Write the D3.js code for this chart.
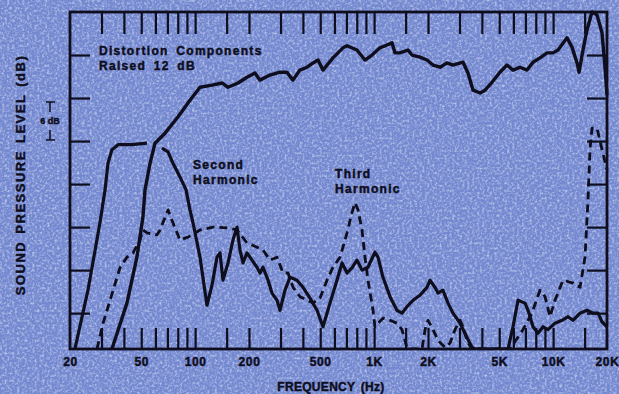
<!DOCTYPE html>
<html>
<head>
  <meta charset="utf-8">
  <script src="https://d3js.org/d3.v7.min.js"></script>
  <style>
    body { margin: 0; background: #7488cf; }
    text { font-family: "Liberation Sans", Arial, sans-serif; font-weight: bold; fill: #0e0e1e; stroke: #0e0e1e; stroke-width: 0.45; }
  </style>
</head>
<body>
<script>
var width = 619, height = 394;
var pl = 70, pr = 607, pt = 12, pb = 349;

// frequency response (solid), Hz / dB
var respFreq = [34.3, 41.6, 47.3, 51.1, 52.5, 56, 59.7, 67.9, 80.3, 93.6, 106.5, 124.3, 141.3, 152.7, 173.6, 194.9, 216, 230, 262, 298, 326, 352, 385, 422, 456, 486, 518, 589, 670, 706, 802, 889, 973, 1079, 1180, 1259, 1308, 1396, 1546, 1628, 1804, 1974, 2133, 2334, 2554, 2758, 3138, 3346, 3569, 3905, 4165, 4556, 5050, 5526, 5970, 6532, 7148, 7722, 8448, 9244, 9986, 10650, 11956, 12752, 13602, 13956, 14690, 15466, 16490, 17586, 18756, 19490, 20000];
var respDb = [1, 7.4, 13.8, 19.4, 23.2, 26.9, 29.7, 31.1, 33.4, 35.7, 37.5, 37.8, 38.1, 37.5, 38.1, 38.9, 39.5, 38.5, 39.2, 39.6, 39.6, 38.5, 39.9, 40.3, 40.9, 41.3, 39.9, 41.6, 43, 43.3, 42.7, 41.3, 42, 43, 43.4, 43.7, 42.3, 42.3, 42.7, 42, 41.7, 41.3, 40.6, 40.3, 40.9, 40.6, 41, 39.5, 37.1, 36.7, 37.1, 38.2, 39.6, 40.6, 39.9, 40.3, 39.9, 41, 41.6, 42.3, 42.3, 42.7, 44.4, 43.1, 40.9, 39.6, 42.7, 45.5, 48, 47.6, 45.1, 40.3, 36.4];

// second harmonic (solid), null = break where it passes the response curve
var secFreq = [21.3, 25.2, 29.4, 31.4, 32.6, 34.3, 37.1, 44.4, 53.8, 58, 65.3, 70.6, 75.2, 82.3, 89, 93.6, 97.3, 106.5, 116.5, 124.3, 132.5, 137.7, 143.1, 152.7, 162.8, 171.4, 178.1, 185.2, 194.9, 207.8, 221.6, 230.4, 239.5, 255.5, 268.8, 286.7, 298, 317.8, 339, 370.8, 400.6, 438.4, 479.8, 518, 567, 620, 662, 706, 752, 802, 856, 924, 1011, 1051, 1121, 1227, 1342, 1431, 1526, 1650, 1804, 1974, 2052, 2188, 2274, 2426, 2587, 2758, 3020, 3304, 3524, 3662, 5598, 5970, 6368, 6966, 7242, 7722, 8234, 8780, 9364, 10246, 11212, 12112, 12918, 14136, 15466, 16704, 17814, 18756, 20000];
var secDb = [1, 9.2, 18.6, 23.2, 26.9, 28.8, 29.5, 29.5, 29.7, null, 29, 28.5, 26.9, 25, 23.2, 20.4, 18.6, 13.8, 7.1, 9.9, 13.8, 14.4, 10.6, 13, 16.2, 18, 14.8, 13, 14.4, 13.4, 12.4, 11.6, 12.4, 10.6, 8.8, 7.8, 6.4, 9.2, 11, 10.6, 9.6, 8.1, 6.4, 4.1, 7.4, 10.6, 13, 11.6, 12.3, 13.4, 12, 12.4, 14.5, 13.8, 11, 8.3, 6.4, 6, 6.9, 7.8, 8.5, 9.6, 10.6, 9.6, 8.8, 9.2, 7.4, 6, 4.6, 2.6, 1.2, 1, 1, 4.1, 7.8, 7.4, 6.4, 4.1, 3.2, 4.1, 3.7, 4.6, 5, 5.5, 5, 6, 6.4, 6, 6, 4.8, 4.1];

// third harmonic (dashed)
var thirdFreq = [28.3, 30.6, 33.5, 38, 41.6, 45, 49.2, 51.1, 53.8, 61.2, 63.7, 70.6, 75.2, 82.3, 91.3, 106.5, 125.9, 150.7, 171.4, 194.9, 221.6, 239.5, 262, 286.7, 309.8, 330.4, 352.4, 385.4, 421.8, 455.6, 498.6, 545.6, 589, 645, 706, 752, 782, 813, 856, 889, 924, 986, 1011, 1051, 1121, 1227, 1342, 1431, 1487, 1526, 1586, 1852, 1925, 2000, 2133, 2274, 2490, 2654, 2830, 3020, 3138, 3304, 3500, 5744, 6790, 7622, 8448, 9010, 9608, 10246, 11356, 12918, 14136, 15074, 15666, 16070, 16490, 17586, 18756, 20000];
var thirdDb = [1, 4.6, 7.8, 12.3, 13.8, 14.4, 16.2, 17.6, 17.2, 16.9, 17.6, 20.4, 18.6, 16.2, 16.6, 17.6, 18, 17.9, 17.6, 15.8, 15.2, 14.8, 13.4, 13.8, 11.6, 11.6, 9.6, 8.3, 7.8, 7.4, 8.1, 10.6, 12.4, 13.8, 17.2, 20, 21.4, 20.4, 17.6, 13.8, 10.6, 6.4, 4.1, 4.6, 5.3, 5, 4.6, 3.7, 2.2, 1.1, 1, 1, 3.7, 5, 3.7, 2.2, 1.2, 1.8, 3.7, 5, 4.1, 2.2, 1, 1, 3.7, 6, 9.2, 8.3, 5.5, 7.8, 10.6, 10.2, 9.6, 13.8, 21.8, 28.8, 31.8, 31.8, 28.8, 26];

var minorTicks = [30, 40, 50, 60, 70, 80, 90, 100, 150, 200, 300, 400, 500, 600, 700, 800, 900, 1000, 1500, 2000, 3000, 4000, 5000, 6000, 7000, 8000, 9000, 10000, 15000];
var freqLabels = [20, 50, 100, 200, 500, 1000, 2000, 5000, 10000, 20000];
var dbTicks = [6, 12, 18, 24, 30, 36, 42];

var x = d3.scaleLog().domain([20, 20000]).range([pl, pr]);
var y = d3.scaleLinear().domain([1, 48]).range([pb, pt]);

var svg = d3.select("body").append("svg")
  .attr("width", width)
  .attr("height", height);

// speckled paper background
var defs = svg.append("defs");
var f = defs.append("filter").attr("id", "noise").attr("x", 0).attr("y", 0).attr("width", "100%").attr("height", "100%");
f.append("feTurbulence").attr("type", "fractalNoise").attr("baseFrequency", 0.4).attr("numOctaves", 3).attr("seed", 4);
f.append("feColorMatrix").attr("type", "matrix")
  .attr("values", "0 0 0 0 0.85  0 0 0 0 0.9  0 0 0 0 1  2.2 0 0 0 -0.95");
defs.append("clipPath").attr("id", "plot")
  .append("rect").attr("x", pl).attr("y", pt - 2).attr("width", pr - pl + 2).attr("height", pb - pt + 2);

svg.append("rect").attr("width", width).attr("height", height).attr("fill", "#7488d0");
svg.append("rect").attr("width", width).attr("height", height).attr("filter", "url(#noise)").attr("opacity", 0.6);

var ink = "#0e0e1e";

function styleAxis(g) {
  g.select(".domain").remove();
  g.selectAll(".tick line").attr("stroke", ink).attr("stroke-width", 2.2);
  g.selectAll(".tick text").attr("fill", ink).attr("font-size", 12).attr("letter-spacing", 0.6)
    .attr("font-family", "Liberation Sans, Arial, sans-serif").attr("font-weight", "bold");
}

svg.append("g").attr("transform", "translate(0," + pt + ")")
  .call(d3.axisTop(x).tickValues(minorTicks).tickSize(-22).tickFormat(""))
  .call(styleAxis);
svg.append("g").attr("transform", "translate(0," + pb + ")")
  .call(d3.axisBottom(x).tickValues(minorTicks).tickSize(-21).tickFormat(""))
  .call(styleAxis);
svg.append("g").attr("transform", "translate(0," + pb + ")")
  .call(d3.axisBottom(x).tickValues(freqLabels).tickSize(0).tickPadding(8)
    .tickFormat(function(d) { return d >= 1000 ? (d / 1000) + "K" : d; }))
  .call(styleAxis);
svg.append("g").attr("transform", "translate(" + pl + ",0)")
  .call(d3.axisLeft(y).tickValues(dbTicks).tickSize(-20).tickFormat(""))
  .call(styleAxis);
svg.append("g").attr("transform", "translate(" + pr + ",0)")
  .call(d3.axisRight(y).tickValues(dbTicks).tickSize(-20).tickFormat(""))
  .call(styleAxis);

svg.append("rect")
  .attr("x", pl).attr("y", pt)
  .attr("width", pr - pl).attr("height", pb - pt)
  .attr("fill", "none").attr("stroke", ink).attr("stroke-width", 2.8);

function series(fr, db) {
  return fr.map(function(d, i) { return { f: d, v: db[i] }; });
}
var line = d3.line()
  .defined(function(d) { return d.v !== null; })
  .x(function(d) { return x(d.f); })
  .y(function(d) { return y(d.v); });

var curves = svg.append("g").attr("clip-path", "url(#plot)");
curves.append("path").datum(series(respFreq, respDb))
  .attr("d", line).attr("fill", "none").attr("stroke", ink)
  .attr("stroke-width", 3.4).attr("stroke-linejoin", "round");
curves.append("path").datum(series(secFreq, secDb))
  .attr("d", line).attr("fill", "none").attr("stroke", ink)
  .attr("stroke-width", 3.2).attr("stroke-linejoin", "round");
curves.append("path").datum(series(thirdFreq, thirdDb))
  .attr("d", line).attr("fill", "none").attr("stroke", ink)
  .attr("stroke-width", 2.8).attr("stroke-dasharray", "8,5").attr("stroke-linejoin", "round");

// annotations
function label(tx, ty, str) {
  svg.append("text").attr("x", tx).attr("y", ty)
    .attr("font-size", 12).attr("letter-spacing", 1.3).attr("word-spacing", 3)
    .text(str);
}
label(99, 55, "Distortion Components");
label(99, 70, "Raised 12 dB");
label(193, 169, "Second");
label(193, 184, "Harmonic");
label(335, 178, "Third");
label(335, 193, "Harmonic");

svg.append("text")
  .attr("x", 331).attr("y", 391)
  .attr("text-anchor", "middle").attr("font-size", 12).attr("letter-spacing", 0.3).attr("word-spacing", 2)
  .text("FREQUENCY (Hz)");

svg.append("text")
  .attr("transform", "translate(25,175) rotate(-90)")
  .attr("text-anchor", "middle").attr("font-size", 13).attr("letter-spacing", 1.5).attr("word-spacing", 2)
  .text("SOUND PRESSURE LEVEL (dB)");

// 6 dB scale bracket
var b = svg.append("g").attr("stroke", ink).attr("stroke-width", 1.5);
b.append("line").attr("x1", 46).attr("x2", 55).attr("y1", 102).attr("y2", 102);
b.append("line").attr("x1", 50).attr("x2", 50).attr("y1", 102).attr("y2", 112);
b.append("line").attr("x1", 50).attr("x2", 50).attr("y1", 130).attr("y2", 140);
b.append("line").attr("x1", 46).attr("x2", 55).attr("y1", 140).attr("y2", 140);
svg.append("text").attr("x", 50).attr("y", 124).attr("text-anchor", "middle")
  .attr("font-size", 9).attr("font-weight", "normal").attr("stroke-width", 0.2).text("6 dB");
</script>
</body>
</html>
